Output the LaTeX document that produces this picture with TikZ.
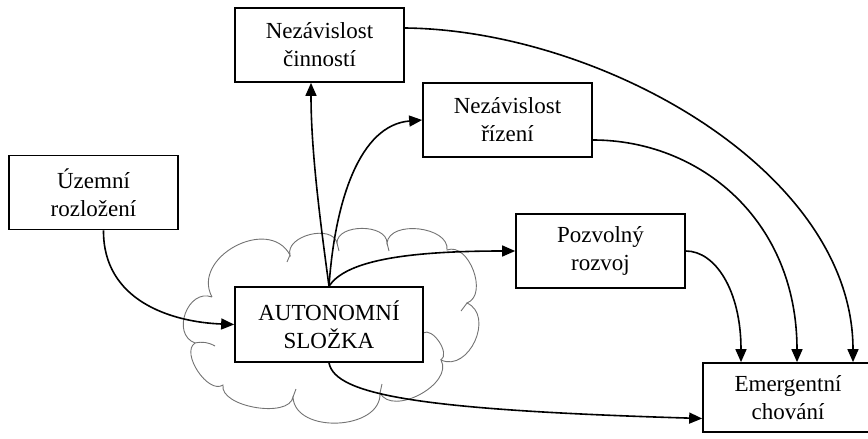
\documentclass[tikz,border=0pt]{standalone}
\usepackage{fontspec}
\setmainfont{Liberation Serif}
\usetikzlibrary{arrows.meta}
\begin{document}
\begin{tikzpicture}[x=1pt,y=-1pt,
  box/.style={draw, line width=1.7pt, fill=white, align=center, inner sep=0pt,
    font=\fontsize{23}{28}\selectfont},
  stdbox/.style={box, minimum width=169pt, minimum height=74pt},
  link/.style={line width=1.6pt, -{Triangle[length=13pt,width=11pt]}},
  cloudline/.style={draw=black!55, line width=0.9pt},
  bump/.style={bend left=90, looseness=#1}]
\useasboundingbox (0,0) rectangle (868,439);

% cloud behind the central component
\path[cloudline]
  (212,297) to[bump=1.3]  (290,255)
            to[bump=1.05] (337,243)
            to[bump=1.0]  (387,243)
            to[bump=1.0]  (447,250)
            to[bump=1.05] (467,303)
            to[bump=1.25] (441,360)
            to[bump=1.0]  (380,393)
            to[bump=1.1]  (293,397)
            to[bump=0.8]  (223,385)
            to[bump=0.9]  (195,343)
            to[bump=1.35] (212,297);
% short inner strokes of the cloud
\path[cloudline] (195,343) to[bend left=20] (215,346);
\path[cloudline] (290,255) -- (287,262);
\path[cloudline] (337,243) -- (339,251);
\path[cloudline] (387,243) -- (389,251);
\path[cloudline] (467,303) -- (461,311);
\path[cloudline] (380,393) -- (382,384);
\path[cloudline] (293,397) -- (296,389);
\path[cloudline] (423,333) to[bump=0.9] (441,360);

% boxes
\node[stdbox] (cin) at (319.5,45)  {Nezávislost\\činností};
\node[stdbox] (uz)  at (93.5,192.5) {Územní\\rozložení};
\node[stdbox] (riz) at (507.5,120) {Nezávislost\\řízení};
\node[stdbox] (poz) at (600.5,251) {Pozvolný\\rozvoj};
\node[box, minimum width=188pt, minimum height=75pt] (au) at (329,324.5) {AUTONOMNÍ\\SLOŽKA};
\node[box, minimum width=170pt, minimum height=69pt] (em) at (788,397.5) {Emergentní\\chování};

% connectors
\draw[link] ([xshift=10pt]uz.south) .. controls (103,300) and (170,322) .. (au.west);
\draw[link] (au.north) .. controls (320,220) and (311,150) .. ([xshift=-8.5pt]cin.south);
\draw[link] (au.north) .. controls (335,200) and (360,125) .. (riz.west);
\draw[link] (au.north) .. controls (345,262) and (400,251) .. (poz.west);
\draw[link] (au.south) .. controls (335,395) and (420,410) .. ([yshift=-21pt]em.west);
\draw[link] ([yshift=17pt]cin.east) .. controls (600,30) and (853,170) .. ([xshift=65pt]em.north);
\draw[link] ([yshift=-20pt]riz.east) .. controls (700,140) and (797,220) .. ([xshift=9pt]em.north);
\draw[link] (poz.east) .. controls (715,251) and (741,290) .. ([xshift=-47pt]em.north);
\end{tikzpicture}
\end{document}
